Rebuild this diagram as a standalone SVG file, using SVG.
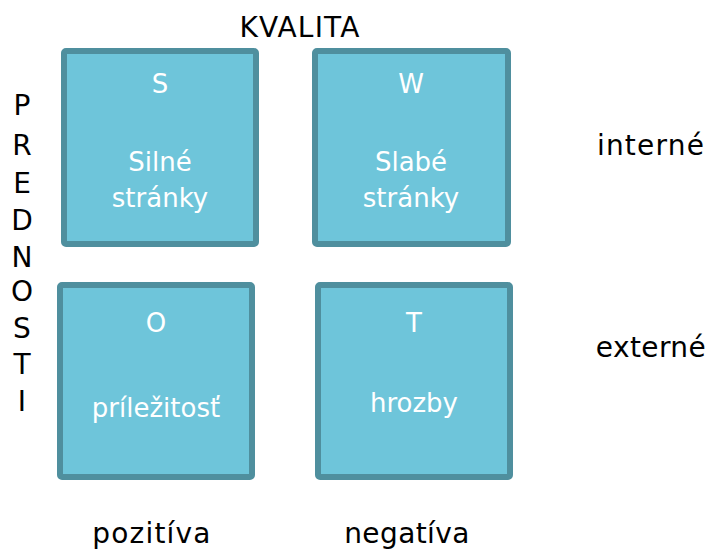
<svg xmlns="http://www.w3.org/2000/svg" width="714" height="553" viewBox="0 0 714 553">
<style>
.box{fill:#6EC5DA;stroke:#4F8F9E;stroke-width:6}
.w{fill:#FFFFFF;font-family:"DejaVu Sans","Liberation Sans",sans-serif;font-size:26px;text-anchor:middle}
.k{fill:#000000;font-family:"DejaVu Sans","Liberation Sans",sans-serif;font-size:28px}
.c{text-anchor:middle}
.s{letter-spacing:1.2px}
.t{letter-spacing:0.4px}
</style>
<rect width="714" height="553" fill="#FFFFFF"/>
<g id="title-kvalita"><text class="k c s" x="300" y="37">KVALITA</text></g>
<g id="title-prednosti">
<text class="k c" x="22" y="115">P</text>
<text class="k c" x="22" y="155">R</text>
<text class="k c" x="22" y="193">E</text>
<text class="k c" x="22" y="230">D</text>
<text class="k c" x="22" y="267">N</text>
<text class="k c" x="22" y="301">O</text>
<text class="k c" x="22" y="338">S</text>
<text class="k c" x="22" y="374">T</text>
<text class="k c" x="22" y="411">I</text>
</g>
<g id="node-S">
<rect class="box" x="64" y="51" width="192" height="193" rx="2"/>
<text class="w" x="160" y="93">S</text>
<text class="w" x="160" y="171">Silné</text>
<text class="w" x="160" y="207">stránky</text>
</g>
<g id="node-W">
<rect class="box" x="315" y="51" width="193" height="193" rx="2"/>
<text class="w" x="411" y="93">W</text>
<text class="w" x="411" y="171">Slabé</text>
<text class="w" x="411" y="207">stránky</text>
</g>
<g id="node-O">
<rect class="box" x="60" y="285" width="192" height="192" rx="2"/>
<text class="w" x="156" y="332">O</text>
<text class="w" x="156" y="417">príležitosť</text>
</g>
<g id="node-T">
<rect class="box" x="318" y="285" width="192" height="192" rx="2"/>
<text class="w" x="414" y="332">T</text>
<text class="w" x="414" y="412">hrozby</text>
</g>
<g id="connectors"></g>
<g id="labels">
<text class="k c s" x="651" y="155">interné</text>
<text class="k c t" x="651" y="357">externé</text>
<text class="k c s" x="152" y="543">pozitíva</text>
<text class="k c t" x="407" y="543">negatíva</text>
</g>
</svg>
